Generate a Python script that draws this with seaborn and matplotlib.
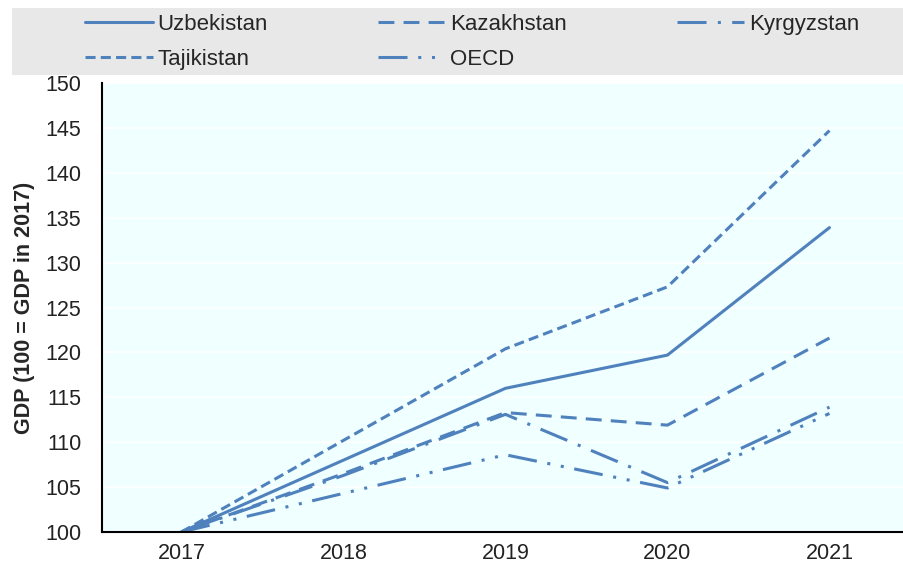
import pandas as pd
import matplotlib.pyplot as plt
import seaborn as sns
from matplotlib.patches import Rectangle

# GDP index (2017 = 100)
years = [2017, 2018, 2019, 2020, 2021]
uzbekistan = [100, 108.0, 116.0, 119.7, 133.9]
kazakhstan = [100, 106.5, 113.3, 111.9, 121.6]
kyrgyzstan = [100, 106.3, 113.1, 105.5, 113.9]
tajikistan = [100, 110.2, 120.4, 127.3, 144.7]
oecd = [100, 104.3, 108.6, 104.9, 113.2]

series = {
    "Uzbekistan": uzbekistan,
    "Tajikistan": tajikistan,
    "Kazakhstan": kazakhstan,
    "OECD": oecd,
    "Kyrgyzstan": kyrgyzstan,
}
df = pd.DataFrame([
    {"year": y, "country": name, "gdp": v}
    for name, vals in series.items() for y, v in zip(years, vals)
])

sns.set_theme(style="white")
plt.rcParams["font.family"] = ["Liberation Sans", "DejaVu Sans"]

blue = "#4f81bd"
dashes = {
    "Uzbekistan": "",
    "Tajikistan": (3.3, 1.7),
    "Kazakhstan": (5.2, 3.0),
    "OECD": (9.5, 3.5, 1, 3.5, 1, 3.5),
    "Kyrgyzstan": (9.5, 3.7, 1, 3.7),
}

fig = plt.figure(figsize=(9.04, 5.68), dpi=100)
ax = fig.add_axes([102 / 904, 1 - 532 / 568, 1 - 102 / 904, (532 - 83) / 568])
ax.set_facecolor("#f0ffff")

sns.lineplot(data=df, x="year", y="gdp", hue="country", style="country",
             palette={k: blue for k in series}, dashes=dashes,
             hue_order=list(series), style_order=list(series),
             linewidth=2.2, ax=ax, legend=True)

ax.set_xlim(2016.51, 2021.46)
ax.set_ylim(100, 150)
ax.set_yticks(range(100, 151, 5))
ax.set_xticks(years)
ax.set_xticks([2017.5, 2018.5, 2019.5, 2020.5], minor=True)
ax.grid(axis="y", color="white", linewidth=1.2)
ax.set_axisbelow(True)

for s in ["top", "right"]:
    ax.spines[s].set_visible(False)
for s in ["left", "bottom"]:
    ax.spines[s].set_color("black")
    ax.spines[s].set_linewidth(1.5)

ax.tick_params(axis="x", which="major", length=0, pad=8, labelsize=15.5, colors="#222222")
ax.tick_params(axis="x", which="minor", direction="in", length=6, width=1.3, color="black")
ax.tick_params(axis="y", direction="in", length=6, width=1.3, color="black",
               pad=15, labelsize=15.5, labelcolor="#222222")

ax.set_xlabel("")
ax.set_ylabel("GDP (100 = GDP in 2017)", fontsize=15.5, fontweight="bold", labelpad=7)

handles, labels = ax.get_legend_handles_labels()
ax.get_legend().remove()

fig.patches.append(Rectangle((12 / 904, 1 - 75 / 568), 892 / 904, 67 / 568,
                             transform=fig.transFigure, facecolor="#e8e8e8",
                             edgecolor="none", zorder=0))
fig.legend(handles, labels, loc="upper left", bbox_to_anchor=(85 / 904, 1 - 14 / 568),
           ncol=3, frameon=False, fontsize=16, handlelength=3.05, handletextpad=0.2,
           columnspacing=4.95, labelspacing=0.62, borderaxespad=0, borderpad=0)

fig.savefig("out.png", dpi=100)
